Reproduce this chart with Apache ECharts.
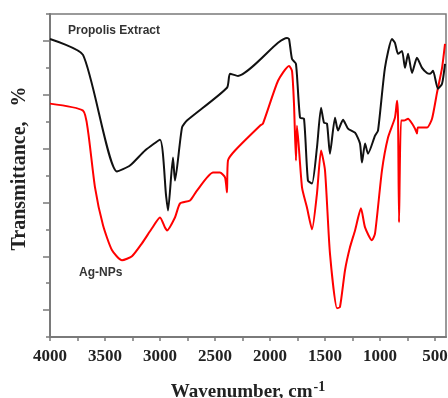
<!DOCTYPE html>
<html>
<head>
<meta charset="utf-8">
<script src="https://cdn.jsdelivr.net/npm/echarts@6/dist/echarts.min.js"></script>
<style>
  html, body { margin: 0; padding: 0; background: #fff; }
  #chart { width: 448px; height: 398px; }
</style>
</head>
<body>
<div id="chart"></div>
<script>
// FTIR spectra (y in arbitrary transmittance units)
const propolisWavenumber = [4000, 3700, 3391, 3273, 3136, 3000, 2945, 2927, 2882, 2864, 2800, 2755, 2391, 2364, 2291, 1927, 1845, 1827, 1800, 1764, 1727, 1691, 1655, 1618, 1573, 1536, 1509, 1482, 1455, 1409, 1382, 1336, 1291, 1227, 1182, 1164, 1136, 1109, 1045, 1018, 955, 891, 864, 836, 800, 773, 745, 709, 664, 618, 573, 545, 518, 473, 436, 409];
const propolisT = [11.07, 10.48, 6.15, 6.37, 6.93, 7.33, 5.26, 4.70, 6.67, 5.81, 7.78, 8.04, 9.26, 9.78, 9.70, 10.93, 11.11, 11.07, 10.33, 10.15, 8.15, 8.11, 5.81, 5.70, 7.04, 8.52, 7.96, 7.93, 6.81, 8.15, 7.67, 8.07, 7.74, 7.59, 7.19, 6.48, 7.19, 6.81, 7.48, 7.67, 10.00, 11.07, 10.93, 10.52, 10.63, 10.00, 10.52, 9.81, 10.37, 10.00, 9.81, 9.78, 9.89, 9.22, 9.41, 10.15];

const agWavenumber = [4000, 3700, 3655, 3591, 3518, 3436, 3345, 3255, 3164, 3073, 3000, 2955, 2936, 2864, 2818, 2727, 2664, 2518, 2455, 2409, 2391, 2382, 2318, 2091, 2064, 1927, 1827, 1800, 1782, 1764, 1755, 1709, 1664, 1618, 1573, 1536, 1500, 1455, 1391, 1364, 1318, 1273, 1227, 1173, 1136, 1073, 1045, 982, 927, 864, 845, 836, 827, 809, 782, 745, 709, 682, 664, 655, 573, 527, 482, 436, 409];
const agT = [8.67, 8.41, 7.67, 5.56, 4.15, 3.22, 2.85, 3.00, 3.48, 4.04, 4.44, 4.07, 3.96, 4.44, 4.96, 5.07, 5.44, 6.11, 6.11, 5.93, 5.37, 6.56, 6.93, 7.85, 7.93, 9.52, 10.07, 9.89, 8.67, 6.56, 7.85, 5.56, 4.81, 4.00, 5.33, 6.93, 6.19, 3.11, 1.07, 1.11, 2.48, 3.33, 3.96, 4.78, 4.07, 3.59, 3.85, 6.19, 7.41, 8.15, 8.78, 8.15, 4.26, 8.04, 8.04, 8.11, 7.93, 7.74, 7.56, 7.78, 7.78, 8.11, 9.07, 10.00, 10.89];

const xLabelValues = [500, 1000, 1500, 2000, 2500, 3000, 3500, 4000];
const xTickValues = [500, 750, 1000, 1250, 1500, 1750, 2000, 2250, 2500, 2750, 3000, 3250, 3500, 3750, 4000];
const yLongTicks = [1, 3, 5, 7, 9, 11];
const yShortTicks = [0, 2, 4, 6, 8, 10, 12];

const toPairs = (xs, ys) => xs.map((x, i) => [x, ys[i]]);

const chart = echarts.init(document.getElementById('chart'));
const axisColor = '#7a7a7a';
const serif = '"Liberation Serif", "DejaVu Serif", serif';
const sans = '"Liberation Sans", Arial, sans-serif';

chart.setOption({
  animation: false,
  grid: {
    left: 50, right: 2, top: 14, bottom: 61,
    outerBoundsMode: 'none',
    containLabel: false,
    show: true, borderColor: axisColor, borderWidth: 1.5, backgroundColor: 'transparent'
  },
  xAxis: {
    type: 'value',
    inverse: true,
    min: 400,
    max: 4000,
    name: '{a|Wavenumber, cm}{b|-1}',
    nameLocation: 'middle',
    nameGap: 43,
    nameTextStyle: {
      rich: {
        a: { fontFamily: serif, fontWeight: 'bold', fontSize: 19, color: '#222', lineHeight: 24 },
        b: { fontFamily: serif, fontWeight: 'bold', fontSize: 14, color: '#222', verticalAlign: 'top', lineHeight: 24, padding: [0, 0, 12, 1] }
      }
    },
    axisLine: { show: true, lineStyle: { color: axisColor, width: 2 } },
    axisTick: { show: true, inside: false, length: 4, customValues: xTickValues, lineStyle: { color: axisColor, width: 1.5 } },
    axisLabel: {
      customValues: xLabelValues,
      formatter: v => String(v),
      margin: 11,
      fontFamily: serif, fontWeight: 'bold', fontSize: 17, color: '#222'
    },
    splitLine: { show: false }
  },
  yAxis: [{
    type: 'value',
    min: 0,
    max: 12,
    name: 'Transmittance,   %',
    nameLocation: 'middle',
    nameGap: 20,
    nameTextStyle: { fontFamily: serif, fontWeight: 'bold', fontSize: 20, color: '#222', padding: [0, 0, 0, 14] },
    axisLine: { show: true, lineStyle: { color: axisColor, width: 2 } },
    axisTick: { show: true, length: 7, customValues: yLongTicks, lineStyle: { color: axisColor, width: 1.5 } },
    axisLabel: { show: false },
    splitLine: { show: false }
  }, {
    type: 'value',
    min: 0,
    max: 12,
    position: 'left',
    axisLine: { show: false },
    axisTick: { show: true, length: 4, customValues: yShortTicks, lineStyle: { color: axisColor, width: 1.5 } },
    axisLabel: { show: false },
    splitLine: { show: false }
  }],
  series: [{
    name: 'Propolis Extract',
    type: 'line',
    data: toPairs(propolisWavenumber, propolisT),
    showSymbol: false,
    smooth: 0.2,
    lineStyle: { color: '#111', width: 2 },
    z: 3
  }, {
    name: 'Ag-NPs',
    type: 'line',
    data: toPairs(agWavenumber, agT),
    showSymbol: false,
    smooth: 0.2,
    lineStyle: { color: '#ff0000', width: 2 },
    z: 2
  }],
  graphic: [{
    type: 'text', left: 68, top: 25,
    style: { text: 'Propolis Extract', font: 'bold 12px ' + sans, fill: '#333' }
  }, {
    type: 'text', left: 79, top: 267,
    style: { text: 'Ag-NPs', font: 'bold 12px ' + sans, fill: '#333' }
  }]
});

window.addEventListener('resize', function () {
  chart.resize();
});
</script>
</body>
</html>
